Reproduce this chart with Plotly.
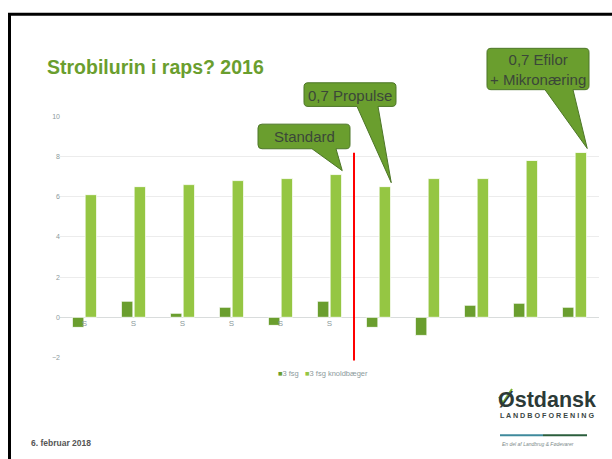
import plotly.graph_objects as go

W, H = 612, 459

# ---- data ----
categories = ["S", "S", "S", "S", "S", "S", "", "", "", "", ""]
fsg3 = [-0.5, 0.8, 0.2, 0.5, -0.4, 0.8, -0.5, -0.9, 0.6, 0.7, 0.5]
fsg3_knold = [6.1, 6.5, 6.6, 6.8, 6.9, 7.1, 6.5, 6.9, 6.9, 7.8, 8.2]
series_names = ["3 fsg", "3 fsg knoldbæger"]
y_ticks = [-2, 0, 2, 4, 6, 8, 10]

title_text = "Strobilurin i raps? 2016"
date_text = "6. februar 2018"

DARK = "#6a9e2e"
LIGHT = "#95c643"
FONT = "Liberation Sans, Arial, sans-serif"
GRAY = "#8c9a9c"

# layout geometry (pixels)
PX0, PX1 = 60, 599
PY_TOP, PY_BOT = 114, 359
YMIN, YMAX = -2, 10
XMIN, XMAX = -0.5, len(categories) - 0.5


def P(x, y):
    return x / W, 1 - y / H


def data_px(xv, yv):
    px = PX0 + (xv - XMIN) / (XMAX - XMIN) * (PX1 - PX0)
    py = PY_BOT - (yv - YMIN) / (YMAX - YMIN) * (PY_BOT - PY_TOP)
    return px, py


xs = list(range(len(categories)))

fig = go.Figure()
fig.add_trace(go.Bar(x=xs, y=fsg3, name=series_names[0], marker=dict(color=DARK, line=dict(color="rgba(255,255,255,0.8)", width=1)), showlegend=False))
fig.add_trace(go.Bar(x=xs, y=fsg3_knold, name=series_names[1], marker=dict(color=LIGHT, line=dict(color="rgba(255,255,255,0.8)", width=1)), showlegend=False))

zero_pos = 1 - data_px(0, 0)[1] / H

fig.update_layout(
    width=W, height=H,
    margin=dict(l=0, r=0, t=0, b=0),
    paper_bgcolor="white", plot_bgcolor="white",
    barmode="group", bargap=0.48, bargroupgap=0.1,
    font=dict(family=FONT, color=GRAY),
    xaxis=dict(domain=[PX0 / W, PX1 / W], range=[XMIN, XMAX], anchor="free", position=zero_pos,
               tickvals=xs, ticktext=categories, tickfont=dict(size=8, color=GRAY),
               showgrid=False, zeroline=False, showline=False, ticks=""),
    yaxis=dict(domain=[1 - PY_BOT / H, 1 - PY_TOP / H], range=[YMIN, YMAX], anchor="free", position=PX0 / W,
               tickvals=y_ticks, tickfont=dict(size=7, color=GRAY),
               showgrid=True, gridcolor="#ececec", gridwidth=1,
               zeroline=True, zerolinecolor="#d9dcdc", zerolinewidth=1, showline=False, ticks=""),
    hovermode=False,
)

shapes = []
# slide frame
shapes.append(dict(type="rect", xref="paper", yref="paper", x0=9.5 / W, x1=1.05, y0=-0.05, y1=1 - 10.5 / H,
                   line=dict(color="black", width=3), fillcolor="rgba(0,0,0,0)", layer="above"))
# red divider
shapes.append(dict(type="line", xref="x", yref="paper", x0=5.5, x1=5.5, y0=1 - 362 / H, y1=1 - 151 / H,
                   line=dict(color="#ff0000", width=2)))


def callout(x0, y0, x1, y1, bx0, bx1, tx, ty, r=4):
    def f(x, y):
        a, b = P(x, y)
        return f"{a:.5f},{b:.5f}"
    path = (f"M {f(x0 + r, y0)} L {f(x1 - r, y0)} Q {f(x1, y0)} {f(x1, y0 + r)} "
            f"L {f(x1, y1 - r)} Q {f(x1, y1)} {f(x1 - r, y1)} L {f(bx1, y1)} L {f(tx, ty)} "
            f"L {f(bx0, y1)} L {f(x0 + r, y1)} Q {f(x0, y1)} {f(x0, y1 - r)} "
            f"L {f(x0, y0 + r)} Q {f(x0, y0)} {f(x0 + r, y0)} Z")
    return dict(type="path", xref="paper", yref="paper", path=path,
                fillcolor="#6a9e2e", line=dict(color="#4d7628", width=1), layer="above")


def tip_for(i):
    px, py = data_px(i + 0.26, fsg3_knold[i])
    return px, py - 4


callouts = [
    # (box x0, y0, x1, y1, tail base x0, x1, bar index, text)
    (258, 122, 350, 147, 312, 336, 5, "Standard"),
    (304, 80, 396, 104, 357, 378, 6, "0,7 Propulse"),
    (487, 45, 589, 87, 545, 573, 10, "0,7 Efilor<br>+ Mikronæring"),
]

annotations = []
for (x0, y0, x1, y1, b0, b1, idx, txt) in callouts:
    tx, ty = tip_for(idx)
    shapes.append(callout(x0, y0, x1, y1, b0, b1, tx, ty))
    cx, cy = P((x0 + x1) / 2, (y0 + y1) / 2 + 0.5)
    annotations.append(dict(x=cx, y=cy, xref="paper", yref="paper", text=txt, showarrow=False,
                            xanchor="center", yanchor="middle", align="center",
                            font=dict(family=FONT, size=15, color="#3b4739")))

# title
tx_, ty_ = P(45, 64)
annotations.append(dict(x=tx_, y=ty_, xref="paper", yref="paper", text=f"<b>{title_text}</b>", showarrow=False,
                        xanchor="left", yanchor="middle", font=dict(family=FONT, size=19.5, color=DARK)))
# date
dx, dy = P(29, 446)
annotations.append(dict(x=dx, y=dy, xref="paper", yref="paper", text=f"<b>{date_text}</b>", showarrow=False,
                        xanchor="left", yanchor="middle", font=dict(family=FONT, size=8.5, color="#555555")))

# legend (manual, compact)
lx, ly = P(276, 375)
annotations.append(dict(x=lx, y=ly, xref="paper", yref="paper",
                        text=(f"<span style='color:{DARK}'>■</span>{series_names[0]}   "
                              f"<span style='color:{LIGHT}'>■</span>{series_names[1]}"),
                        showarrow=False, xanchor="left", yanchor="middle",
                        font=dict(family=FONT, size=7.5, color=GRAY)))

# logo
ox, oy = P(496, 402)
annotations.append(dict(x=ox, y=oy, xref="paper", yref="paper", text="<b>Østdansk</b>", showarrow=False,
                        xanchor="left", yanchor="middle", font=dict(family=FONT, size=21.5, color="#2c3a37")))
lx2, ly2 = P(498, 418)
annotations.append(dict(x=lx2, y=ly2, xref="paper", yref="paper", text="<b>L A N D B O F O R E N I N G</b>",
                        showarrow=False, xanchor="left", yanchor="middle",
                        font=dict(family=FONT, size=7.2, color="#3a4644")))
sx, sy = P(500, 447)
annotations.append(dict(x=sx, y=sy, xref="paper", yref="paper", text="<i>En del af Landbrug &amp; Fødevarer</i>",
                        showarrow=False, xanchor="left", yanchor="middle",
                        font=dict(family=FONT, size=5, color="#7d8a8a")))
# logo decorations
a0 = P(500, 438); a1 = P(543, 438); a2 = P(587, 438)
shapes.append(dict(type="line", xref="paper", yref="paper", x0=a0[0], y0=a0[1], x1=a1[0], y1=a1[1],
                   line=dict(color="#3f8a9c", width=2)))
shapes.append(dict(type="line", xref="paper", yref="paper", x0=a1[0], y0=a1[1], x1=a2[0], y1=a2[1],
                   line=dict(color="#2b5e3c", width=2)))
c0 = P(499, 399); c1 = P(503, 405); c2 = P(512, 391)
shapes.append(dict(type="path", xref="paper", yref="paper",
                   path=f"M {c0[0]:.5f},{c0[1]:.5f} L {c1[0]:.5f},{c1[1]:.5f} L {c2[0]:.5f},{c2[1]:.5f}",
                   line=dict(color="#7ab32e", width=2), layer="above"))

fig.update_layout(shapes=shapes, annotations=annotations)

fig.write_html("out.html", config={"displayModeBar": False},
               post_script="document.body.style.margin='0';document.body.style.padding='0';document.body.style.overflow='hidden';")
